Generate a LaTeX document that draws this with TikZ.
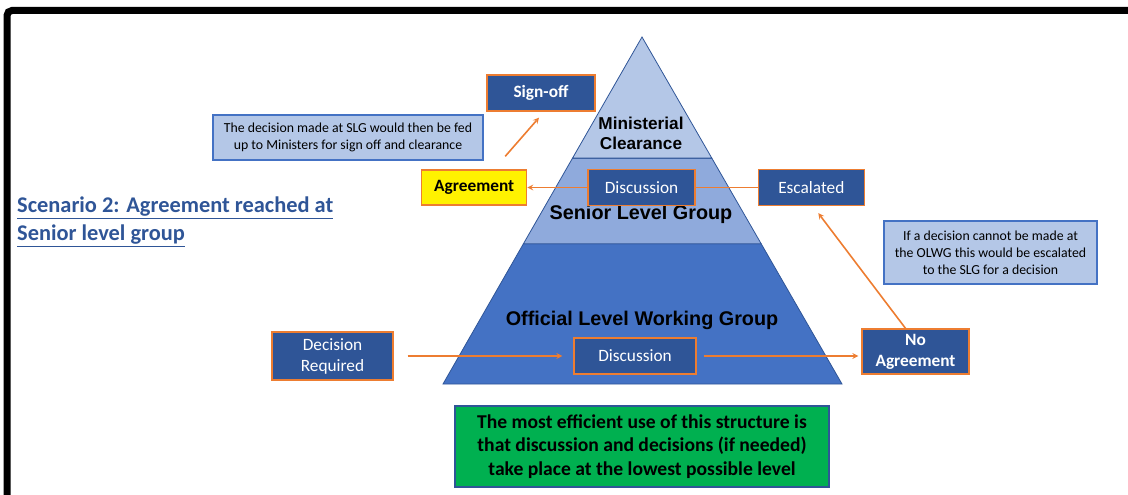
\documentclass[tikz,border=0pt]{standalone}
\usepackage{fontspec}
\setmainfont{Carlito}
\newfontfamily\pyrfont{Liberation Sans}
\usetikzlibrary{arrows, positioning, calc}

\definecolor{boxblue}{HTML}{2F5597}
\definecolor{edgeorange}{HTML}{ED7D31}
\definecolor{paleblue}{HTML}{B4C7E7}
\definecolor{midblue}{HTML}{8FAADC}
\definecolor{baseblue}{HTML}{4472C4}
\definecolor{summarygreen}{HTML}{00B050}

\begin{document}
\begin{tikzpicture}[
    x=1pt, y=-1pt,
    box/.style={rectangle, draw=edgeorange, line width=1.3pt, fill=boxblue, text=white, inner sep=0pt, align=center, font=\fontsize{17.3}{21}\selectfont},
    boldbox/.style={box, font=\fontsize{17.3}{21}\selectfont\bfseries},
    agreebox/.style={boldbox, fill=yellow, text=black},
    note/.style={rectangle, draw=baseblue, line width=1.2pt, fill=paleblue, inner sep=0pt, align=center, font=\fontsize{13.8}{17}\selectfont},
    tier/.style={draw=boxblue, line width=0.8pt},
    tierlabel/.style={align=center, font=\pyrfont\bfseries\fontsize{19.8}{22}\selectfont},
    link/.style={draw=edgeorange, line width=1.6pt},
    arrow/.style={link, ->, >=stealth}
]
\useasboundingbox (0,0) rectangle (1128,495);

% Frame
\draw[line width=7pt, rounded corners=5pt] (7,510) -- (7,10.5) -- (1140,10.5);

% Pyramid
\coordinate (apex) at (642,37);
\coordinate (bl) at (443,384);
\coordinate (br) at (842,384);
\draw[tier, fill=baseblue] ($(apex)!0.596!(bl)$) -- ($(apex)!0.596!(br)$) -- (br) -- (bl) -- cycle;
\draw[tier, fill=midblue] ($(apex)!0.349!(bl)$) -- ($(apex)!0.349!(br)$) -- ($(apex)!0.596!(br)$) -- ($(apex)!0.596!(bl)$) -- cycle;
\draw[tier, fill=paleblue] (apex) -- ($(apex)!0.349!(br)$) -- ($(apex)!0.349!(bl)$) -- cycle;

\node[tierlabel, font=\pyrfont\bfseries\fontsize{17.2}{20}\selectfont] (minlabel) at (641,133) {Ministerial\\Clearance};
\node[tierlabel] (slglabel) at (641,214) {Senior Level Group};
\node[tierlabel] (olwglabel) at (642,320) {Official Level Working Group};

% Senior level group row
\node[box, minimum width=107pt, minimum height=36pt] (discslg) at (641.5,187.5) {Discussion};
\node[agreebox, minimum width=105pt, minimum height=35pt, left=60pt of discslg] (agree) {Agreement};
\node[box, minimum width=106pt, minimum height=36pt, right=62pt of discslg] (escal) {Escalated};
\node[boldbox, minimum width=108pt, minimum height=36pt] (signoff) at (541,93) {Sign-off};

% Official level row
\node[box, minimum width=121pt, minimum height=48pt] (decision) at (332.5,356) {Decision\\Required};
\node[box, minimum width=122pt, minimum height=36pt] (discolwg) at (635,356) {Discussion};
\node[boldbox, minimum width=107pt, minimum height=45pt] (noagree) at (915.5,351.5) {No\\Agreement};

% Notes
\node[note, minimum width=270pt, minimum height=45pt] (slgnote) at (348,137.5) {The decision made at SLG would then be fed\\up to Ministers for sign off and clearance};
\node[note, minimum width=213pt, minimum height=63pt] (olwgnote) at (990.5,252.5) {If a decision cannot be made at\\the OLWG this would be escalated\\to the SLG for a decision};
\node[rectangle, draw=boxblue, line width=1.2pt, fill=summarygreen, minimum width=374pt, minimum height=81pt, inner sep=0pt, align=center, font=\fontsize{19.6}{23.5}\selectfont\bfseries] (summary) at (642,446.5) {The most efficient use of this structure is\\that discussion and decisions (if needed)\\take place at the lowest possible level};

% Title
\node[anchor=west, align=left, inner sep=0pt, text=boxblue, font=\fontsize{22.4}{28}\selectfont\bfseries] (scenario) at (17,222) {\underline{Scenario 2: Agreement reached at}\\\underline{Senior level group}};

% Arrows
\draw[arrow, shorten <=14pt, shorten >=11pt] (decision) -- (discolwg);
\draw[arrow, shorten <=7pt, shorten >=3pt] (discolwg.east) -- (discolwg.east -| noagree.west);
\draw[arrow] ([xshift=-10pt]noagree.north) -- ([shift={(7,7)}]escal.south);
\draw[link] (discslg.east) -- (discslg.east -| escal.west);
\draw[arrow] (discslg.west) -- (discslg.west -| agree.east);
\draw[arrow] ([shift={(31,-13)}]agree.north) -- ([shift={(-2,6)}]signoff.south);

\end{tikzpicture}
\end{document}
